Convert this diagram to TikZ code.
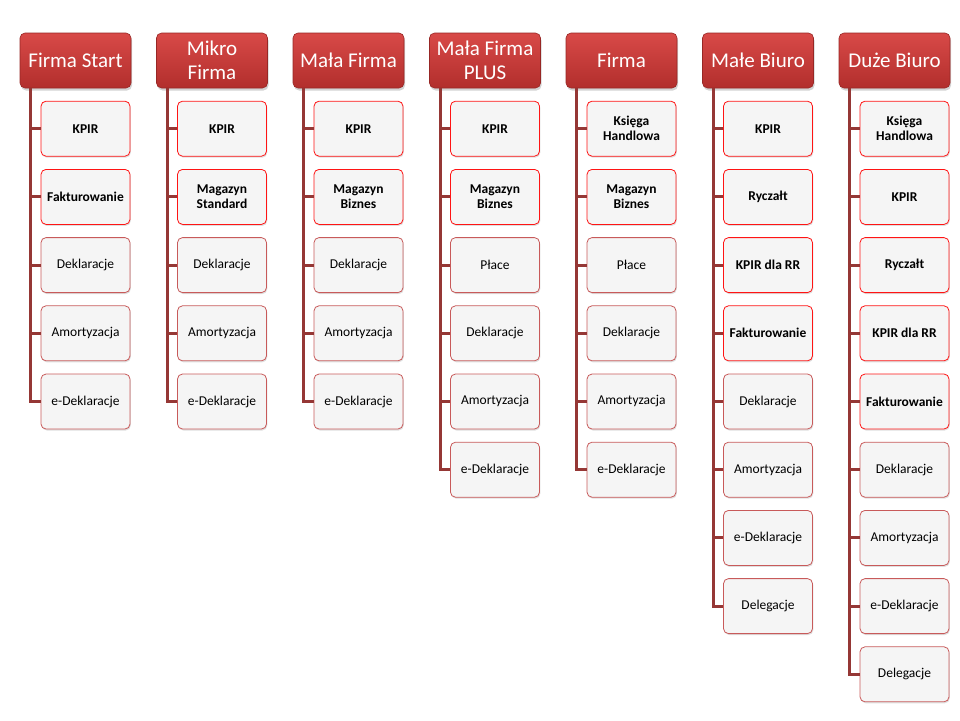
\documentclass[tikz,border=0pt]{standalone}
\usepackage{fontspec}
\setmainfont{Carlito}
\usepackage{tikz}
\usetikzlibrary{shadows}
\definecolor{headtop}{RGB}{216, 74, 72}
\definecolor{headbot}{RGB}{178, 46, 44}
\definecolor{trunkred}{RGB}{149, 55, 53}
\definecolor{keyred}{RGB}{255, 20, 20}
\definecolor{boxred}{RGB}{200, 90, 90}
\definecolor{boxfill}{RGB}{245, 245, 245}

\tikzset{
  head/.style={rounded corners=5pt, minimum width=111pt, minimum height=55pt,
    top color=headtop, bottom color=headbot, draw=headbot!85!black, line width=0.6pt,
    text=white, align=center, font=\fontsize{21}{24}\selectfont, inner sep=1pt,
    drop shadow={shadow xshift=1pt, shadow yshift=-2.5pt, opacity=0.35}},
  modbox/.style={rounded corners=5pt, minimum width=89pt, minimum height=55pt,
    fill=boxfill, draw=boxred, line width=0.8pt, align=center, inner sep=1pt,
    font=\fontsize{13.5}{15}\selectfont,
    drop shadow={shadow xshift=0.8pt, shadow yshift=-1.5pt, opacity=0.25}},
  modkey/.style={modbox, draw=keyred, font=\fontsize{13.5}{15}\selectfont\bfseries},
  trunk/.style={draw=trunkred, line width=3pt}
}

\begin{document}
\begin{tikzpicture}[x=1pt, y=-1pt]
\useasboundingbox (0,0) rectangle (960,720);

% Firma Start
\node[head] (h1) at (75.5,60.5) {Firma Start};
\foreach \t/\s [count=\j] in {KPIR/modkey, Fakturowanie/modkey, Deklaracje/modbox,
    Amortyzacja/modbox, e-Deklaracje/modbox}
    \node[\s] (c1-\j) at (85.5,60.5+68.2*\j) {\t};
\draw[trunk] ([xshift=11pt]h1.south west) |- (c1-5.west);
\foreach \j in {1,...,4}
    \draw[trunk] (c1-\j.west) -- ++(-10,0);

% Mikro Firma
\node[head] (h2) at (212,60.5) {Mikro\\Firma};
\foreach \t/\s [count=\j] in {KPIR/modkey, Magazyn\\Standard/modkey, Deklaracje/modbox,
    Amortyzacja/modbox, e-Deklaracje/modbox}
    \node[\s] (c2-\j) at (222,60.5+68.2*\j) {\t};
\draw[trunk] ([xshift=11pt]h2.south west) |- (c2-5.west);
\foreach \j in {1,...,4}
    \draw[trunk] (c2-\j.west) -- ++(-10,0);

% Mała Firma
\node[head] (h3) at (348.5,60.5) {Mała Firma};
\foreach \t/\s [count=\j] in {KPIR/modkey, Magazyn\\Biznes/modkey, Deklaracje/modbox,
    Amortyzacja/modbox, e-Deklaracje/modbox}
    \node[\s] (c3-\j) at (358.5,60.5+68.2*\j) {\t};
\draw[trunk] ([xshift=11pt]h3.south west) |- (c3-5.west);
\foreach \j in {1,...,4}
    \draw[trunk] (c3-\j.west) -- ++(-10,0);

% Mała Firma PLUS
\node[head] (h4) at (485,60.5) {Mała Firma\\PLUS};
\foreach \t/\s [count=\j] in {KPIR/modkey, Magazyn\\Biznes/modkey, Płace/modbox,
    Deklaracje/modbox, Amortyzacja/modbox, e-Deklaracje/modbox}
    \node[\s] (c4-\j) at (495,60.5+68.2*\j) {\t};
\draw[trunk] ([xshift=11pt]h4.south west) |- (c4-6.west);
\foreach \j in {1,...,5}
    \draw[trunk] (c4-\j.west) -- ++(-10,0);

% Firma
\node[head] (h5) at (621.5,60.5) {Firma};
\foreach \t/\s [count=\j] in {Księga\\Handlowa/modkey, Magazyn\\Biznes/modkey, Płace/modbox,
    Deklaracje/modbox, Amortyzacja/modbox, e-Deklaracje/modbox}
    \node[\s] (c5-\j) at (631.5,60.5+68.2*\j) {\t};
\draw[trunk] ([xshift=11pt]h5.south west) |- (c5-6.west);
\foreach \j in {1,...,5}
    \draw[trunk] (c5-\j.west) -- ++(-10,0);

% Małe Biuro
\node[head] (h6) at (758,60.5) {Małe Biuro};
\foreach \t/\s [count=\j] in {KPIR/modkey, Ryczałt/modkey, KPIR dla RR/modkey,
    Fakturowanie/modkey, Deklaracje/modbox, Amortyzacja/modbox,
    e-Deklaracje/modbox, Delegacje/modbox}
    \node[\s] (c6-\j) at (768,60.5+68.2*\j) {\t};
\draw[trunk] ([xshift=11pt]h6.south west) |- (c6-8.west);
\foreach \j in {1,...,7}
    \draw[trunk] (c6-\j.west) -- ++(-10,0);

% Duże Biuro
\node[head] (h7) at (894.5,60.5) {Duże Biuro};
\foreach \t/\s [count=\j] in {Księga\\Handlowa/modkey, KPIR/modkey, Ryczałt/modkey,
    KPIR dla RR/modkey, Fakturowanie/modkey, Deklaracje/modbox,
    Amortyzacja/modbox, e-Deklaracje/modbox, Delegacje/modbox}
    \node[\s] (c7-\j) at (904.5,60.5+68.2*\j) {\t};
\draw[trunk] ([xshift=11pt]h7.south west) |- (c7-9.west);
\foreach \j in {1,...,8}
    \draw[trunk] (c7-\j.west) -- ++(-10,0);
\end{tikzpicture}
\end{document}
